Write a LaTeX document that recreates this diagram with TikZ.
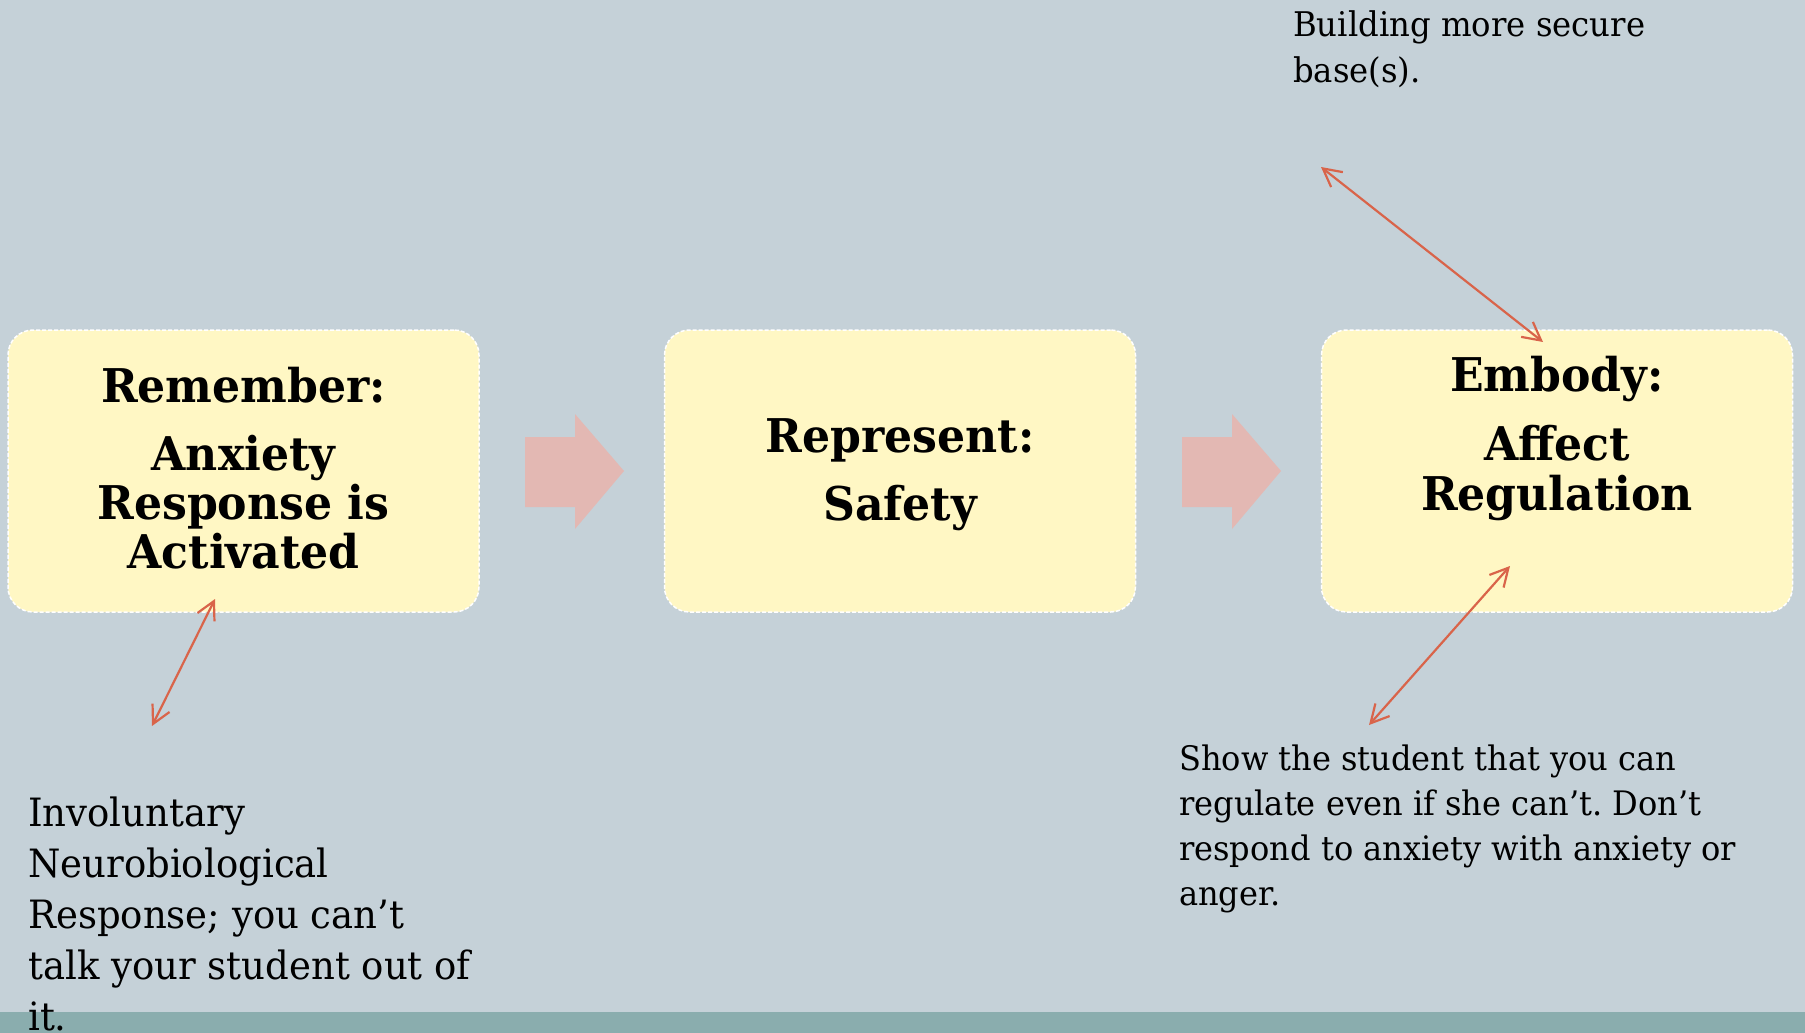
\documentclass[tikz,border=0pt]{standalone}
\usepackage{fontspec}
\setmainfont[FakeStretch=0.95]{DejaVu Serif}
\usetikzlibrary{arrows.meta}
\definecolor{bg}{RGB}{197,209,216}
\definecolor{boxfill}{RGB}{255,247,196}
\definecolor{blockarrow}{RGB}{227,184,179}
\definecolor{linkcol}{RGB}{217,100,74}
\definecolor{strip}{RGB}{138,173,174}
\frenchspacing
\begin{document}
\begin{tikzpicture}[x=1pt,y=-1pt,
  stage/.style={draw=white, dash pattern=on 4pt off 2pt, line width=1.5pt, fill=boxfill,
    rounded corners=25pt, minimum width=471pt, minimum height=282pt, inner sep=0pt},
  stagetext/.style={align=center, inner sep=0pt, anchor=base,
    font=\bfseries\fontsize{46.5}{49}\selectfont},
  note/.style={align=left, inner sep=0pt, anchor=base west},
  linkarrow/.style={draw=linkcol, line width=2.2pt,
    {Straight Barb[length=18pt,width=19pt]}-{Straight Barb[length=18pt,width=19pt]}},
  flow/.style={fill=blockarrow}
]
\useasboundingbox (0,0) rectangle (1805,1033);
\fill[bg] (0,0) rectangle (1805,1033);
\fill[strip] (0,1012) rectangle (1805,1033);

\node[stage] (remember) at (243.5,471) {};
\node[stage] (represent) at (900,471) {};
\node[stage] (embody) at (1557,471) {};
\node[stagetext] (remembertext) at (243.5,568) {Remember:\\[19pt]Anxiety\\Response is\\Activated};
\node[stagetext] (representtext) at (900,520) {Represent:\\[19pt]Safety};
\node[stagetext, font=\bfseries\fontsize{46.5}{50}\selectfont] (embodytext) at (1557,510) {Embody:\\[19pt]Affect\\Regulation};

\fill[flow] (525,437) -- (575,437) -- (575,414) -- (624,471) -- (575,529) -- (575,507) -- (525,507) -- cycle;
\fill[flow] (1182,437) -- (1232,437) -- (1232,414) -- (1281,471) -- (1232,529) -- (1232,507) -- (1182,507) -- cycle;

\node[note, font=\fontsize{34}{45.7}\selectfont] (base) at (1293,82) {Building more secure\\base(s).};
\node[note, font=\fontsize{39}{51}\selectfont] (invol) at (28,1030) {Involuntary\\Neurobiological\\Response; you can’t\\talk your student out of\\it.};
\node[note, font=\fontsize{33.75}{45}\selectfont] (show) at (1179,905) {Show the student that you can\\regulate even if she can’t. Don’t\\respond to anxiety with anxiety or\\anger.};

\coordinate (r1) at (215,599);
\coordinate (i1) at (152,726);
\coordinate (e1) at (1543,342);
\coordinate (b1) at (1321,167);
\coordinate (e2) at (1510,566);
\coordinate (s1) at (1369,725);
\draw[linkarrow] (r1) -- (i1);
\draw[linkarrow] (b1) -- (e1);
\draw[linkarrow] (e2) -- (s1);
\end{tikzpicture}
\end{document}
